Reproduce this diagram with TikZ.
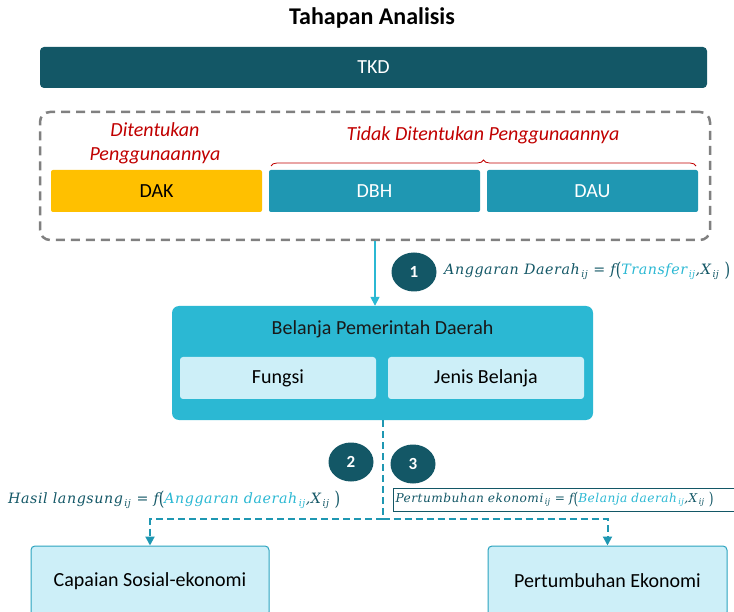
\documentclass[tikz,border=0pt]{standalone}
\usepackage{fontspec}
\setmainfont{Carlito}
\newfontfamily\camfont[LetterSpace=4]{DejaVu Serif}
\usepackage{graphicx}
\usetikzlibrary{shapes.geometric,decorations.pathreplacing,arrows.meta}
\definecolor{tkd}{HTML}{135766}
\definecolor{dbh}{HTML}{1F97B2}
\definecolor{belc}{HTML}{2BB8D3}
\definecolor{lite}{HTML}{CDEFF8}
\definecolor{dakc}{HTML}{FFC000}
\definecolor{redt}{HTML}{C00000}
\definecolor{grayd}{HTML}{808080}
\definecolor{edgec}{HTML}{2BA3BF}
\newcommand{\sbij}{\textsubscript{\,ij}}
\newcommand{\lpar}{\raisebox{-0.25ex}{\scalebox{1}[1.35]{\upshape(}}}
\newcommand{\rpar}{\raisebox{-0.25ex}{\scalebox{1}[1.35]{\upshape)}}}
\tikzset{
  lbl/.style={font=\fontsize{20}{24}\selectfont},
  box/.style={rectangle, rounded corners=4pt, lbl, inner sep=0pt},
  numc/.style={ellipse, fill=tkd, text=white, minimum width=45pt, minimum height=39pt, inner sep=0pt, font=\fontsize{17}{20}\selectfont\bfseries},
  redlbl/.style={text=redt, font=\fontsize{20}{24}\selectfont\itshape, align=center},
  formula/.style={text=tkd, inner sep=0pt, font=\camfont\itshape\fontsize{12}{14}\selectfont},
  dashline/.style={dbh, line width=2pt, dash pattern=on 7pt off 4pt},
  tip/.style={-{Triangle[length=9pt,width=9pt]}},
}
\begin{document}
\begin{tikzpicture}[x=1pt,y=-1pt]
\useasboundingbox (0,0) rectangle (734,612);
\clip (0,0) rectangle (734,612);
% title
\node[font=\fontsize{24}{28}\selectfont\bfseries] (title) at (372,18) {Tahapan Analisis};
% TKD
\node[box, fill=tkd, text=white, minimum width=667pt, minimum height=41pt] (tkd) at (373.5,67.5) {TKD};
% dashed group
\node[rectangle, draw=grayd, line width=2.5pt, dash pattern=on 9pt off 6pt, rounded corners=10pt, minimum width=670pt, minimum height=128pt] (grp) at (375,176) {};
% components
\node[box, fill=dakc, text=black, minimum width=211pt, minimum height=42pt, rounded corners=2pt] (dak) at (156.5,191) {DAK};
\node[box, fill=dbh, text=white, minimum width=211pt, minimum height=42pt, rounded corners=2pt] (dbh) at (374.5,191) {DBH};
\node[box, fill=dbh, text=white, minimum width=211pt, minimum height=42pt, rounded corners=2pt] (dau) at (592.5,191) {DAU};
% red labels
\node[redlbl] (lab1) at (155,143) {Ditentukan\\Penggunaannya};
\node[redlbl] (lab2) at (483,135) {Tidak Ditentukan Penggunaannya};
\coordinate (brL) at (271,166);
\coordinate (brR) at (696,166);
\draw[redt, line width=0.8pt, decorate, decoration={brace, amplitude=6pt}] (brL) -- (brR);
% Belanja
\node[box, fill=belc, rounded corners=7pt, minimum width=421pt, minimum height=114pt] (bel) at (382.5,363) {};
\node[lbl, text=black!90] (beltitle) at (382.5,329) {Belanja Pemerintah Daerah};
\node[box, fill=lite, rounded corners=3pt, minimum width=196pt, minimum height=42pt] (fungsi) at (278,378) {Fungsi};
\node[box, fill=lite, rounded corners=3pt, minimum width=196pt, minimum height=42pt] (jenis) at (486,378) {Jenis Belanja};
% arrow 1
\draw[belc, line width=1.6pt, tip] (grp.south) -- (grp.south |- bel.north);
\node[numc] (n1) at (414,272) {1};
\node[formula, anchor=west] (f1) at (444,271) {\resizebox{286pt}{!}{Anggaran Daerah\sbij{} = f\lpar\textcolor{belc}{Transfer\sbij},X\sbij{} \rpar}};
% outcome boxes
\node[box, fill=lite, draw=edgec, line width=1pt, minimum width=238pt, minimum height=70pt] (cap) at (150,581) {Capaian Sosial-ekonomi};
\node[box, fill=lite, draw=edgec, line width=1pt, minimum width=239pt, minimum height=70pt] (pe) at (607.5,581) {Pertumbuhan Ekonomi};
% dashed connectors
\coordinate (junc) at (bel.south |- 0,519);
\draw[dashline] (bel.south) -- (junc);
\draw[dashline, tip] (junc) -| (cap.north);
\draw[dashline, tip] (junc) -| (pe.north);
% circles 2, 3
\node[numc] (n2) at (351,462) {2};
\node[numc] (n3) at (413,464) {3};
% formulas
\node[formula, anchor=west] (f2) at (8,500) {\resizebox{332pt}{!}{Hasil langsung\sbij{} = f\lpar\textcolor{belc}{Anggaran daerah\sbij},X\sbij{} \rpar}};
\node[formula, draw=tkd, line width=1pt, anchor=west, minimum height=23pt, minimum width=360pt, inner xsep=2pt, align=left, text width=356pt] (f3) at (393,499.5) {\resizebox{318pt}{!}{Pertumbuhan ekonomi\sbij{} = f\lpar\textcolor{belc}{Belanja daerah\sbij},X\sbij{} \rpar}};
\end{tikzpicture}
\end{document}
